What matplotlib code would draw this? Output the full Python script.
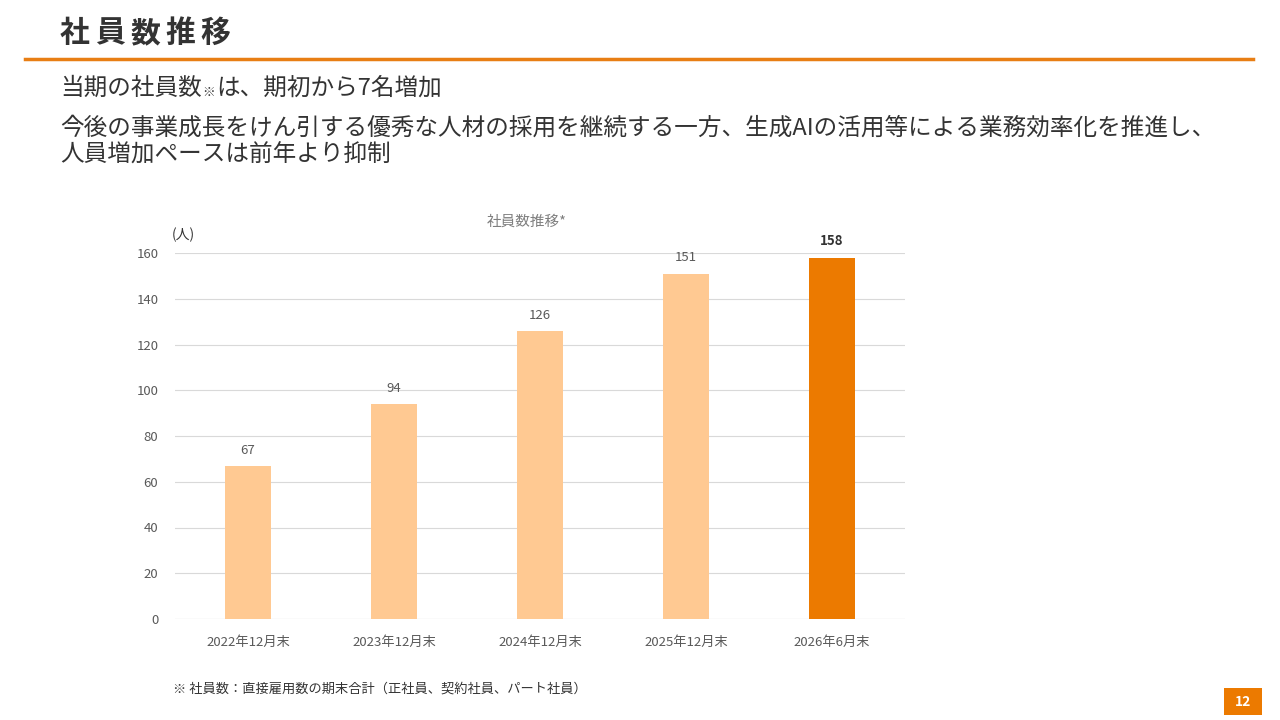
import matplotlib
matplotlib.use('Agg')
import matplotlib.pyplot as plt
from matplotlib.patches import Rectangle

plt.rcParams['font.family'] = ['Noto Sans CJK JP', 'DejaVu Sans']

# データ
categories = ['2022年12月末', '2023年12月末', '2024年12月末', '2025年12月末', '2026年6月末']
employees = [67, 94, 126, 151, 158]
bar_colors = ['#FFC992', '#FFC992', '#FFC992', '#FFC992', '#EC7A00']
yticks = [0, 20, 40, 60, 80, 100, 120, 140, 160]

dark = '#333333'
gray = '#595959'
orange = '#E87E14'

fig = plt.figure(figsize=(12.8, 7.2), dpi=100)
renderer = fig.canvas.get_renderer()

# タイトル（字間あり）
for i, ch in enumerate('社員数推移'):
    fig.text((60 + i*35)/1280, 1-33/720, ch, fontsize=21.5, fontweight='bold',
             color=dark, va='center', ha='left')
fig.add_artist(plt.Line2D([25/1280, 1253/1280], [1-59/720, 1-59/720],
                          color=orange, linewidth=2.5))

# 見出し
fs = 17
t1 = fig.text(60/1280, 1-88/720, '当期の社員数', fontsize=fs, color=dark,
              va='center', ha='left')
x1 = t1.get_window_extent(renderer).x1
t2 = fig.text((x1 + 1)/1280, 1-92/720, '※', fontsize=9, color=dark,
              va='center', ha='left')
x2 = t2.get_window_extent(renderer).x1
fig.text((x2 + 1)/1280, 1-88/720, 'は、期初から7名増加', fontsize=fs, color=dark,
         va='center', ha='left')
fig.text(60/1280, 1-128/720,
         '今後の事業成長をけん引する優秀な人材の採用を継続する一方、生成AIの活用等による業務効率化を推進し、',
         fontsize=fs, color=dark, va='center', ha='left')
fig.text(60/1280, 1-155/720, '人員増加ペースは前年より抑制', fontsize=fs,
         color=dark, va='center', ha='left')

# グラフ
ax = fig.add_axes([175/1280, 1-619/720, 730/1280, 366/720])
x = range(len(categories))
bars = ax.bar(x, employees, width=0.315, color=bar_colors, zorder=3)
for i, (b, v) in enumerate(zip(bars, employees)):
    last = i == len(employees) - 1
    ax.text(b.get_x() + b.get_width()/2, v + 4, str(v), ha='center', va='bottom',
            fontsize=9.5, color=dark if last else gray,
            fontweight='bold' if last else 'normal', clip_on=False)

ax.set_xlim(-0.5, len(categories) - 0.5)
ax.set_ylim(0, 160)
ax.set_yticks(yticks)
ax.set_xticks(list(x))
ax.set_xticklabels(categories)
ax.tick_params(axis='both', length=0, labelsize=9.5, labelcolor=gray)
ax.tick_params(axis='x', pad=12)
ax.tick_params(axis='y', pad=12)
ax.grid(axis='y', color='#D9D9D9', linewidth=0.8, zorder=0)
for s in ax.spines.values():
    s.set_visible(False)
ax.axhline(0, color='#D9D9D9', linewidth=0.8, zorder=2)

fig.text(527/1280, 1-222/720, '社員数推移*', fontsize=10.5, color='#7F7F7F',
         ha='center', va='center')
fig.text(172/1280, 1-235/720, '(人)', fontsize=10, color=dark, ha='left', va='center')

# 注記
fig.text(173/1280, 1-689/720, '※ 社員数：直接雇用数の期末合計（正社員、契約社員、パート社員）',
         fontsize=9.5, color=dark, ha='left', va='center')

# ページ番号
fig.add_artist(Rectangle((1224/1280, 1-715/720), 38/1280, 27/720,
                         transform=fig.transFigure, facecolor='#EC7A00', edgecolor='none'))
fig.text(1243/1280, 1-702/720, '12', fontsize=10, color='white', fontweight='bold',
         ha='center', va='center')

fig.savefig('out.png', dpi=100)
